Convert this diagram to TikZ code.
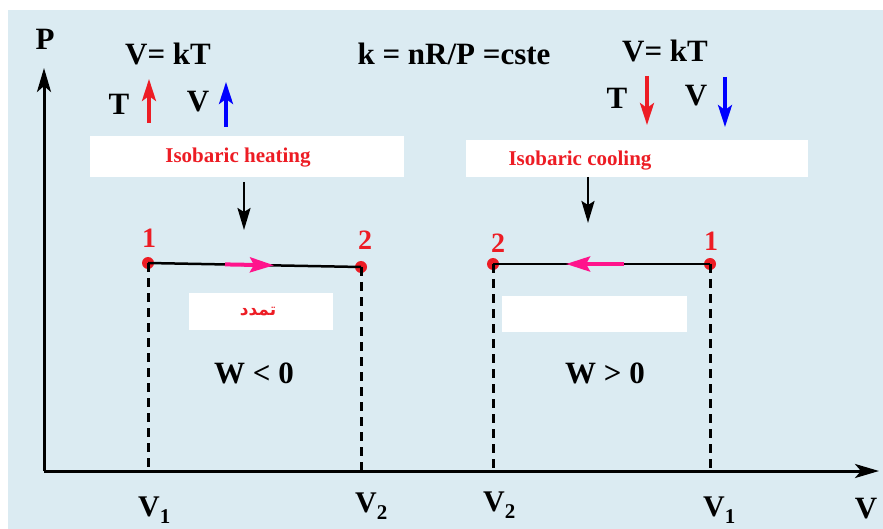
\documentclass[tikz,border=0pt]{standalone}
\usepackage{fontspec}
\setmainfont{Liberation Serif}
\newfontfamily\arabicfont[Script=Arabic]{DejaVu Sans}
\TeXXeTstate=1
\usetikzlibrary{arrows.meta}
\definecolor{bgblue}{RGB}{219,235,242}
\definecolor{ptred}{RGB}{237,28,36}
\definecolor{pinkarr}{RGB}{255,20,140}
\definecolor{vblue}{RGB}{0,0,255}
\newcommand{\sub}[1]{\raisebox{-7pt}{\fontsize{21}{21}\selectfont #1}}
\begin{document}
\begin{tikzpicture}[x=1pt,y=-1pt,
  lbl/.style={inner sep=0pt, anchor=base, font=\fontsize{31}{31}\selectfont\bfseries},
  vlbl/.style={inner sep=0pt, anchor=base west, font=\fontsize{30}{30}\selectfont\bfseries},
  numlbl/.style={inner sep=0pt, anchor=base, text=ptred, font=\fontsize{28}{28}\selectfont\bfseries},
  boxtxt/.style={inner sep=0pt, anchor=base, text=ptred, font=\fontsize{21}{21}\selectfont\bfseries},
  whitebox/.style={fill=white, draw=none, inner sep=0pt},
  dot/.style={circle, fill=ptred, draw=none, minimum size=12pt, inner sep=0pt},
  axis/.style={line width=3pt, -{Stealth[length=24pt,width=14pt,inset=6pt]}},
  seg/.style={line width=2.5pt},
  vdash/.style={line width=3pt, dash pattern=on 9pt off 6pt},
  flow/.style={line width=4pt, pinkarr, -{Stealth[length=24pt,width=15pt,inset=4pt]}},
  down/.style={line width=2.5pt, -{Stealth[length=22pt,width=13pt,inset=4pt]}},
  trend/.style={line width=3.5pt, -{Stealth[length=22pt,width=14pt,inset=5pt]}}
]
\useasboundingbox (0,0) rectangle (883,529);
\fill[bgblue] (8,10) rectangle (883,529);

% axes
\coordinate (O) at (44,471);
\coordinate (ytip) at (44,68);
\coordinate (xtip) at (879,471);
\draw[axis] (O) -- (ytip);
\draw[axis] (O) -- (xtip);
\node[lbl] (Plab) at (45,50) {P};
\node[lbl] (Vlab) at (866,518) {V};

% top formulas
\node[lbl] (vkt1) at (168,65) {V= kT};
\node[lbl] (kdef) at (454,65) {k = nR/P =cste};
\node[lbl] (vkt2) at (665,62) {V= kT};

% trends
\node[lbl] (T1) at (119,115) {T};
\node[lbl] (V1t) at (198,112) {V};
\node[lbl] (T2) at (617,109) {T};
\node[lbl] (V2t) at (696,106) {V};
\coordinate (r1a) at (149,123); \coordinate (r1b) at (149,79);
\coordinate (b1a) at (226,127); \coordinate (b1b) at (226,82);
\coordinate (r2a) at (647,76);  \coordinate (r2b) at (647,125);
\coordinate (b2a) at (725,77);  \coordinate (b2b) at (725,127);
\draw[trend, ptred] (r1a) -- (r1b);
\draw[trend, vblue] (b1a) -- (b1b);
\draw[trend, ptred] (r2a) -- (r2b);
\draw[trend, vblue] (b2a) -- (b2b);

% white boxes
\node[whitebox, minimum width=314pt, minimum height=41pt] (hbox) at (247,156.5) {};
\node[boxtxt] (htxt) at (238,162.5) {Isobaric heating};
\node[whitebox, minimum width=342pt, minimum height=37pt] (cbox) at (637,158.5) {};
\node[boxtxt] (ctxt) at (580,165.5) {Isobaric cooling};
\node[whitebox, minimum width=144pt, minimum height=37pt] (abox) at (261,311.5) {};
\node[inner sep=0pt, text=ptred, font=\arabicfont\fontsize{17}{17}\selectfont\bfseries] (atxt) at (258,312) {\beginR تمدد\endR};
\node[whitebox, minimum width=185pt, minimum height=36pt] (ebox) at (594.5,314) {};

% black arrows
\coordinate (ha) at (244,182); \coordinate (hb) at (244,230);
\coordinate (ca) at (588,177); \coordinate (cb) at (588,223);
\draw[down] (ha) -- (hb);
\draw[down] (ca) -- (cb);

% left process: 1 -> 2
\node[dot] (L1) at (148,263) {};
\node[dot] (L2) at (361,267) {};
\draw[seg] (L1.center) -- (L2.center);
\coordinate (pl1) at (225,264.4); \coordinate (pl2) at (274,265.3);
\draw[flow] (pl1) -- (pl2);
\draw[vdash] (L1.center) -- (L1.center |- O);
\draw[vdash] (L2.center) -- (L2.center |- O);
\node[numlbl] (n1l) at (149,248) {1};
\node[numlbl] (n2l) at (365,250) {2};

% right process: 1 -> 2
\node[dot] (R1) at (710,264) {};
\node[dot] (R2) at (493,264) {};
\draw[seg] (R1.center) -- (R2.center);
\coordinate (pr1) at (624,264); \coordinate (pr2) at (566,264);
\draw[flow] (pr1) -- (pr2);
\draw[vdash] (R1.center) -- (R1.center |- O);
\draw[vdash] (R2.center) -- (R2.center |- O);
\node[numlbl] (n2r) at (498,253) {2};
\node[numlbl] (n1r) at (711,251) {1};

% work labels
\node[lbl] (wneg) at (254,383) {W < 0};
\node[lbl] (wpos) at (605,383) {W > 0};

% volume labels
\node[vlbl] (v1l) at (138,516) {V\sub{1}};
\node[vlbl] (v2l) at (355,512) {V\sub{2}};
\node[vlbl] (v2r) at (483,511) {V\sub{2}};
\node[vlbl] (v1r) at (703,516) {V\sub{1}};
\end{tikzpicture}
\end{document}
